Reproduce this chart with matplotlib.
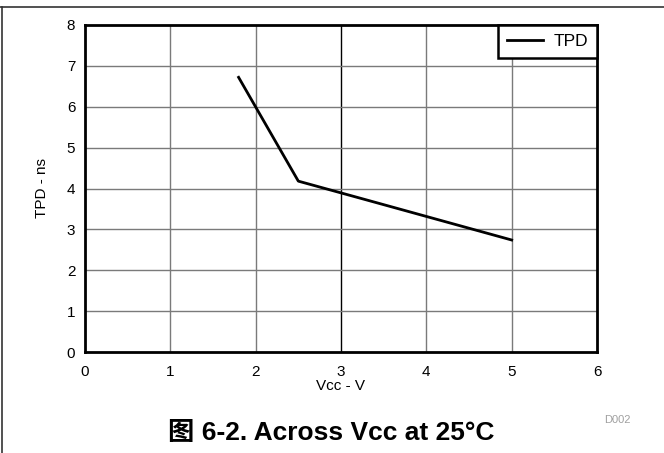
import matplotlib
matplotlib.use("Agg")
import matplotlib.pyplot as plt
from matplotlib.lines import Line2D

plt.rcParams['font.family'] = ['Liberation Sans', 'Noto Sans CJK SC', 'DejaVu Sans']

vcc = [1.8, 2.5, 3.3, 5.0]
tpd = [6.72, 4.18, 3.72, 2.74]
xticks = [0, 1, 2, 3, 4, 5, 6]
yticks = [0, 1, 2, 3, 4, 5, 6, 7, 8]

fig = plt.figure(figsize=(6.64, 4.53), dpi=100)
ax = fig.add_axes([85/664, 1-352/453, 512/664, 327/453])

ax.plot(vcc, tpd, color='black', lw=2.0, label='TPD')
ax.set_xlim(0, 6)
ax.set_ylim(0, 8)
ax.set_xticks(xticks)
ax.set_yticks(yticks)
for x in xticks[1:-1]:
    ax.axvline(x, color='black' if x == 3 else '#7a7a7a', lw=1.0, zorder=0)
for y in yticks[1:-1]:
    ax.axhline(y, color='#7a7a7a', lw=1.0, zorder=0)
for s in ax.spines.values():
    s.set_linewidth(2.0)
    s.set_color('black')
ax.tick_params(axis='x', length=0, labelsize=11, pad=9)
ax.tick_params(axis='y', length=0, labelsize=11, pad=7)
ax.set_xlabel('Vcc - V', fontsize=11, labelpad=0)
ax.set_ylabel('TPD - ns', fontsize=11, labelpad=13)

leg = ax.legend(loc='upper right', borderaxespad=0, fancybox=False,
                edgecolor='black', fontsize=12.5, handlelength=2.1,
                handletextpad=0.6, borderpad=0.5, framealpha=1)
leg.get_frame().set_linewidth(1.8)

fig.text(617/664, 1-420/453, 'D002', color='#a0a0a0', fontsize=8, ha='center', va='center')
fig.text(331/664, 1-433/453, '图 6-2. Across Vcc at 25°C', fontsize=19, fontweight='bold',
         ha='center', va='center')

fig.add_artist(Line2D([0, 1], [1-7/453, 1-7/453], color='#333333', lw=1.2, transform=fig.transFigure))
fig.add_artist(Line2D([1.5/664, 1.5/664], [0, 1-7/453], color='#333333', lw=1.2, transform=fig.transFigure))

fig.savefig('out.png', dpi=100)
